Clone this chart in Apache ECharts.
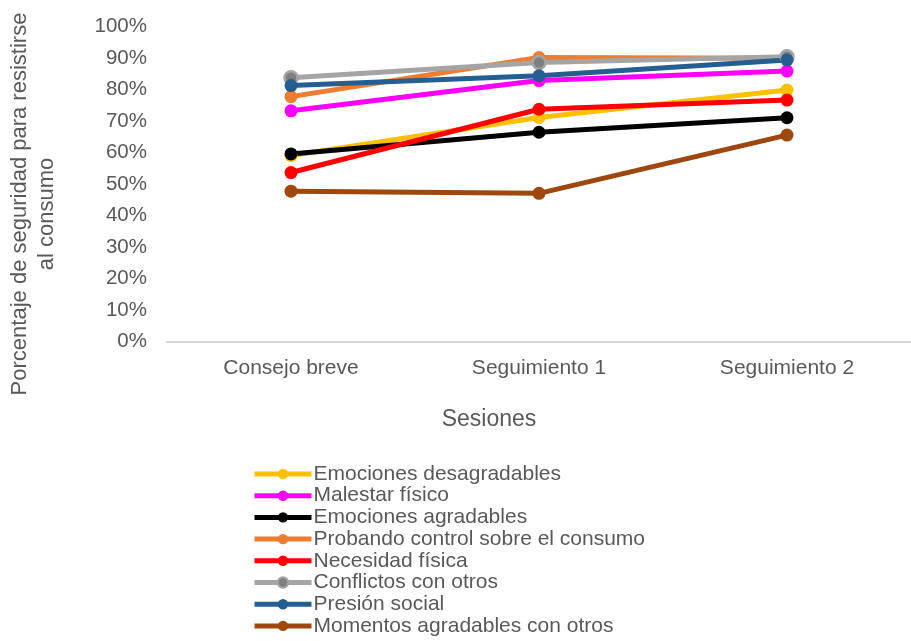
<!DOCTYPE html>
<html>
<head>
<meta charset="utf-8">
<script src="https://cdn.jsdelivr.net/npm/echarts@6/dist/echarts.min.js"></script>
<style>html,body{margin:0;padding:0;background:#fff}#c{width:911px;height:641px}</style>
</head>
<body>
<div id="c"></div>
<script>
var categories = ['Consejo breve', 'Seguimiento 1', 'Seguimiento 2'];
var seriesNames = ['Emociones desagradables', 'Malestar físico', 'Emociones agradables', 'Probando control sobre el consumo', 'Necesidad física', 'Conflictos con otros', 'Presión social', 'Momentos agradables con otros'];
var emocionesDesagradables = [0.591, 0.712, 0.799];
var malestarFisico = [0.733, 0.829, 0.859];
var emocionesAgradables = [0.596, 0.665, 0.711];
var probandoControl = [0.778, 0.902, 0.900];
var necesidadFisica = [0.537, 0.738, 0.767];
var conflictosOtros = [0.838, 0.886, 0.905];
var presionSocial = [0.813, 0.844, 0.894];
var momentosAgradables = [0.478, 0.471, 0.656];
var yTicks = [0, 0.1, 0.2, 0.3, 0.4, 0.5, 0.6, 0.7, 0.8, 0.9, 1.0];

var values = [emocionesDesagradables, malestarFisico, emocionesAgradables, probandoControl, necesidadFisica, conflictosOtros, presionSocial, momentosAgradables];
var lineColors = ['#FFC000', '#FF00FF', '#000000', '#ED7D31', '#FF0000', '#A5A5A5', '#255E91', '#9E480E'];
var markerColors = ['#FFC000', '#FF00FF', '#000000', '#ED7D31', '#FF0000', '#7F7F7F', '#255E91', '#9E480E'];

var font = '"Liberation Sans", Arial, sans-serif';
var chart = echarts.init(document.getElementById('c'));
var series = values.map(function (v, i) {
  return {
    name: seriesNames[i],
    type: 'line',
    data: v,
    symbol: 'circle',
    symbolSize: 13,
    lineStyle: { color: lineColors[i], width: 5 },
    itemStyle: i === 5 ? { color: markerColors[i], borderColor: lineColors[i], borderWidth: 2.5 } : { color: markerColors[i] },
    emphasis: { disabled: true },
    animation: false
  };
});
chart.setOption({
  animation: false,
  backgroundColor: '#ffffff',
  textStyle: { fontFamily: font },
  grid: { left: 167, top: 26.7, width: 760, bottom: 299.3, containLabel: false },
  xAxis: {
    type: 'category',
    data: categories,
    boundaryGap: true,
    axisLine: { show: true, lineStyle: { color: '#D9D9D9', width: 2 } },
    axisTick: { show: false },
    axisLabel: { color: '#595959', fontSize: 21, margin: 16, fontFamily: font },
    splitLine: { show: false }
  },
  yAxis: {
    type: 'value',
    min: yTicks[0],
    max: yTicks[yTicks.length - 1],
    interval: 0.1,
    axisLine: { show: false },
    axisTick: { show: false },
    splitLine: { show: false },
    axisLabel: {
      color: '#595959', fontSize: 20.5, margin: 20, fontFamily: font,
      formatter: function (v) { return Math.round(v * 100) + '%'; }
    }
  },
  legend: {
    orient: 'vertical',
    left: 252,
    top: 463.5,
    height: 177,
    padding: 0,
    itemWidth: 57,
    itemHeight: 13,
    itemGap: 0.7,
    lineStyle: { width: 5 },
    textStyle: { color: '#595959', fontSize: 21, lineHeight: 21, fontFamily: font, padding: [0, 0, 0, -3] },
    data: seriesNames
  },
  graphic: [
    { type: 'text', x: 489, y: 420, style: { text: 'Sesiones', fill: '#595959', font: '23px ' + font, align: 'center', verticalAlign: 'middle' } },
    { type: 'text', x: 20, y: 204, rotation: Math.PI / 2, style: { text: 'Porcentaje de seguridad para resistirse', fill: '#595959', font: '22px ' + font, align: 'center', verticalAlign: 'middle' } },
    { type: 'text', x: 47, y: 214, rotation: Math.PI / 2, style: { text: 'al consumo', fill: '#595959', font: '22px ' + font, align: 'center', verticalAlign: 'middle' } }
  ],
  series: series
});
</script>
</body>
</html>
